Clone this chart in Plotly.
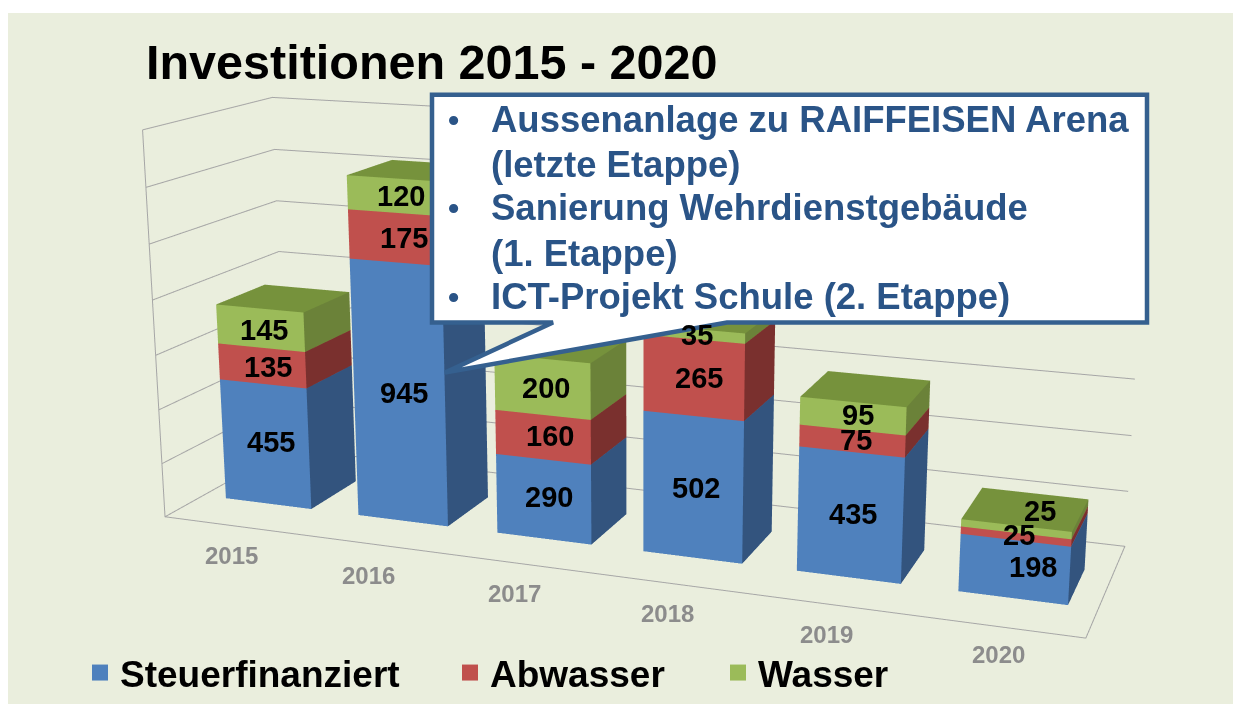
import plotly.graph_objects as go

years = ["2015", "2016", "2017", "2018", "2019", "2020"]
steuer = [455, 945, 290, 502, 435, 198]
abwasser = [135, 175, 160, 265, 75, 25]
wasser = [145, 120, 200, 35, 95, 25]
grid_values = [200, 400, 600, 800, 1000, 1200, 1400]

W, H = 1235, 704
FONT = "Liberation Sans"

# Bar footprint inside each category and inside the chart depth
BAR_X0, BAR_X1 = .175, .825
BAR_Y0, BAR_Y1 = .2923, .6833
# Excel-style oblique 3-D view: floor skew applied to the horizontal axes
SKEW = (.4451, -.2469, .2193, 1.3776)
# Scene aspect and camera
ASPECT_Y, ASPECT_Z = .1412, .3899
EYE = (.1546, -.6726, .4980)
CENTER = (.0131, .0280, .0366)
UP = (-.0015, 0, 1)
KX, KY = 3., 6.
ZMAX = 1400

# Pixel nudges that put data labels where the source chart has them
STEUER_NUDGE = [(-18, 11), (-17, 12), (-13, 12), (-13, 15), (-10, 15), (9, 15)]
ABWASSER_NUDGE = [(-18, 13), (-13, 10), (-12, 12), (-11, 13), (-9, 13), (-6, 15)]
WASSER_NUDGE = [(-20, 13), (-15, 9), (-15, 14), (-13, 13), (-8, 13), (14, -2)]
YEAR_NUDGE = [(29, 13), (26, 13), (24, 11), (21, 10), (15, 9), (13, 5)]


def T(x, y, z):
    a, b, c, d = SKEW
    return x + a * y + b * z / ZMAX, y + c * x / 6 + d * z / ZMAX, z


series = [
    ("Steuerfinanziert", steuer, "#4F81BD", "#33547E", "#4F81BD", STEUER_NUDGE),
    ("Abwasser", abwasser, "#C0504D", "#7A302E", "#C0504D", ABWASSER_NUDGE),
    ("Wasser", wasser, "#9BBB59", "#6B8239", "#76923C", WASSER_NUDGE),
]

fig = go.Figure()
base = [0] * len(years)
labels = []
for name, vals, front, side, top, nudge in series:
    X, Y, Z, I, J, K, FC = [], [], [], [], [], [], []
    for i, v in enumerate(vals):
        z0, z1 = base[i], base[i] + v
        n = len(X)
        for zz in (z0, z1):
            for xx, yy in [(i + BAR_X0, BAR_Y0), (i + BAR_X1, BAR_Y0), (i + BAR_X1, BAR_Y1), (i + BAR_X0, BAR_Y1)]:
                a, b, c = T(xx, yy, zz)
                X.append(a); Y.append(b); Z.append(c)
        for a, b, c, col in [(0, 1, 5, front), (0, 5, 4, front), (1, 2, 6, side), (1, 6, 5, side), (4, 5, 6, top), (4, 6, 7, top)]:
            I.append(n + a); J.append(n + b); K.append(n + c); FC.append(col)
        a, b, c = T(i + .5, (BAR_Y0 + BAR_Y1) / 2, z0 + v / 2)
        labels.append(dict(x=a, y=b, z=c, text="<b>%d</b>" % v, showarrow=False, xshift=nudge[i][0], yshift=-nudge[i][1],
                           font=dict(family=FONT, size=29, color="black")))
        base[i] = z1
    fig.add_trace(go.Mesh3d(x=X, y=Y, z=Z, i=I, j=J, k=K, facecolor=FC, flatshading=True, showscale=False,
                            hoverinfo="skip", name=name,
                            lighting=dict(ambient=1, diffuse=0, specular=0, fresnel=0, roughness=1)))

path = []
for z in grid_values:
    path += [(0, 0, z), (0, 1, z), (len(years), 1, z), None]
path += [(0, 0, ZMAX), (0, 0, 0), (len(years), 0, 0), (len(years), 1, 0), (0, 1, 0), (0, 0, 0)]
pts = [T(*g) if g else (None, None, None) for g in path]
fig.add_trace(go.Scatter3d(x=[g[0] for g in pts], y=[g[1] for g in pts], z=[g[2] for g in pts], mode="lines",
                           line=dict(color="#A6A6A6", width=2), showlegend=False, hoverinfo="skip"))

for i, yr in enumerate(years):
    a, b, c = T(i + .5, -.22, 0)
    labels.append(dict(x=a, y=b, z=c, text="<b>%s</b>" % yr, showarrow=False, xshift=YEAR_NUDGE[i][0], yshift=-YEAR_NUDGE[i][1],
                       font=dict(family=FONT, size=24, color="#8C8C8C")))

for k, (name, _, front, *_rest) in enumerate(series):
    fig.add_trace(go.Scatter3d(x=[None], y=[None], z=[None], mode="markers", name=name,
                               legend="legend" if k == 0 else "legend%d" % (k + 1),
                               marker=dict(symbol="square", color=front, size=16)))

hidden = dict(visible=False, showgrid=False, zeroline=False, showticklabels=False, title="")


def leg(x):
    return dict(x=x / W, y=1 - 674 / H, yanchor="middle", xanchor="left", bgcolor="rgba(0,0,0,0)", itemsizing="trace",
                font=dict(family=FONT, size=37, color="black", weight="bold"))


def px(x, y):
    return x / W, 1 - y / H


callout = [(432, 95), (1147, 95), (1147, 323), (727, 323), (445, 373), (553, 323), (432, 323)]
callout_path = "M" + " L".join("%f,%f" % px(a, b) for a, b in callout) + " Z"
shapes = [
    dict(type="rect", xref="paper", yref="paper", x0=8 / W, x1=1233 / W, y0=-.01, y1=1 - 13 / H,
         fillcolor="#EAEEDD", line_width=0, layer="below"),
    dict(type="path", xref="paper", yref="paper", path=callout_path, fillcolor="white",
         line=dict(color="#35608F", width=4.5), layer="above"),
]
callout_lines = [("Aussenanlage zu RAIFFEISEN Arena", 120, True), ("(letzte Etappe)", 165, False),
                 ("Sanierung Wehrdienstgebäude", 208, True), ("(1. Etappe)", 254, False),
                 ("ICT-Projekt Schule (2. Etappe)", 297, True)]
notes = []
for t, y, bullet in callout_lines:
    a, b = px(489, y)
    notes.append(dict(xref="paper", yref="paper", x=a, y=b, xanchor="left", yanchor="middle", text="<b>%s</b>" % t,
                      showarrow=False, font=dict(family=FONT, size=36.5, color="#2A5487")))
    if bullet:
        a, b = px(453, y)
        notes.append(dict(xref="paper", yref="paper", x=a, y=b, xanchor="center", yanchor="middle", text="<b>•</b>",
                          showarrow=False, font=dict(family=FONT, size=32, color="#2A5487")))

fig.update_layout(
    width=W, height=H, margin=dict(l=0, r=0, t=0, b=0), paper_bgcolor="white",
    title=dict(text="<b>Investitionen 2015 - 2020</b>", x=146 / W, xanchor="left", y=1 - 62 / H, yanchor="middle",
               font=dict(family=FONT, size=48.5, color="black")),
    legend=leg(80), legend2=leg(450), legend3=leg(718),
    shapes=shapes, annotations=notes,
    scene=dict(
        domain=dict(x=[0, 1], y=[0, 1]), bgcolor="rgba(0,0,0,0)", dragmode="orbit",
        xaxis=dict(hidden, range=[3 - 3 * KX, 3 + 3 * KX]),
        yaxis=dict(hidden, range=[.5 - .5 * KY, .5 + .5 * KY]),
        zaxis=dict(hidden, range=[0, ZMAX]),
        aspectmode="manual", aspectratio=dict(x=KX, y=ASPECT_Y * KY, z=ASPECT_Z),
        camera=dict(eye=dict(zip("xyz", EYE)), center=dict(zip("xyz", CENTER)), up=dict(zip("xyz", UP))),
        annotations=labels))

fig.write_html("out.html", config=dict(displayModeBar=False), post_script="document.body.style.margin='0';")
